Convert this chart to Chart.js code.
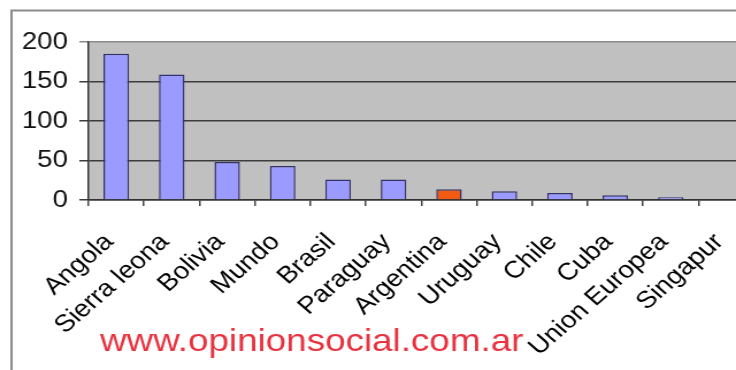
<!DOCTYPE html>
<html>
<head>
<meta charset="utf-8">
<script src="https://cdn.jsdelivr.net/npm/chart.js@4/dist/chart.umd.min.js"></script>
<style>
  html, body { margin: 0; padding: 0; background: #ffffff; overflow: hidden; width: 736px; height: 370px; }
  #wrap { position: absolute; left: 0; top: 0; transform: scaleX(1.15); transform-origin: 0 0; }
  canvas { display: block; }
</style>
</head>
<body>
<div id="wrap"><canvas id="c" width="674" height="370" style="width:674px;height:370px"></canvas></div>
<script>
const categories = ['Angola', 'Sierra leona', 'Bolivia', 'Mundo', 'Brasil', 'Paraguay',
  'Argentina', 'Uruguay', 'Chile', 'Cuba', 'Union Europea', 'Singapur'];
const values = [185, 159, 48, 43, 26, 26, 13.5, 11, 9, 6, 3.4, 1];
const highlighted = 'Argentina';
const yTicks = [0, 50, 100, 150, 200];
const watermark = 'www.opinionsocial.com.ar';

const barFill = categories.map(c => c === highlighted ? '#f25a12' : '#9a9aff');

// outer frame, grey plot background (under the grid) and red site caption
const decor = {
  id: 'decor',
  beforeDraw(chart) {
    const { ctx, chartArea: a } = chart;
    ctx.save();
    ctx.strokeStyle = '#8c8c8c';
    ctx.lineWidth = 2;
    ctx.beginPath();
    ctx.moveTo(10, 372);
    ctx.lineTo(10, 10.5);
    ctx.lineTo(700, 10.5);
    ctx.stroke();
    ctx.fillStyle = '#c0c0c0';
    ctx.fillRect(a.left, a.top, a.right - a.left, a.bottom - a.top);
    ctx.restore();
  },
  afterDraw(chart) {
    const { ctx } = chart;
    ctx.save();
    ctx.fillStyle = '#e8323f';
    ctx.font = '32px "Liberation Sans", Arial, sans-serif';
    ctx.textBaseline = 'alphabetic';
    ctx.fillText(watermark, 87, 351);
    ctx.restore();
  }
};

new Chart(document.getElementById('c'), {
  type: 'bar',
  data: {
    labels: categories,
    datasets: [{
      data: values,
      backgroundColor: barFill,
      borderColor: '#33336a',
      borderWidth: 1.5,
      barPercentage: 0.46,
      categoryPercentage: 1
    }]
  },
  options: {
    responsive: false,
    animation: false,
    layout: { padding: { top: 42, right: 3, left: 0, bottom: 0 } },
    plugins: { legend: { display: false }, tooltip: { enabled: false } },
    scales: {
      x: {
        grid: {
          offset: true,
          drawOnChartArea: false,
          drawTicks: true,
          tickLength: 6,
          color: '#444444',
          lineWidth: 1.5
        },
        border: { color: '#333333', width: 1.5 },
        ticks: {
          minRotation: 45,
          maxRotation: 45,
          autoSkip: false,
          padding: 22,
          labelOffset: -6,
          color: '#000000',
          font: { family: '"Liberation Sans", Arial, sans-serif', size: 24 }
        },
        afterFit(scale) { scale.height = 170; }
      },
      y: {
        min: 0,
        max: 200,
        afterBuildTicks(scale) { scale.ticks = yTicks.map(v => ({ value: v })); },
        grid: {
          drawTicks: true,
          tickLength: 8,
          color: ctx => (ctx.tick && ctx.tick.value === 200 ? '#8a8a8a' : '#3c3c3c'),
          lineWidth: 1.5
        },
        border: { color: '#333333', width: 1.5 },
        ticks: {
          padding: 10,
          color: '#111111',
          font: { family: '"Liberation Sans", Arial, sans-serif', size: 24 }
        },
        afterFit(scale) { scale.width = 77; }
      }
    }
  },
  plugins: [decor]
});
</script>
</body>
</html>
